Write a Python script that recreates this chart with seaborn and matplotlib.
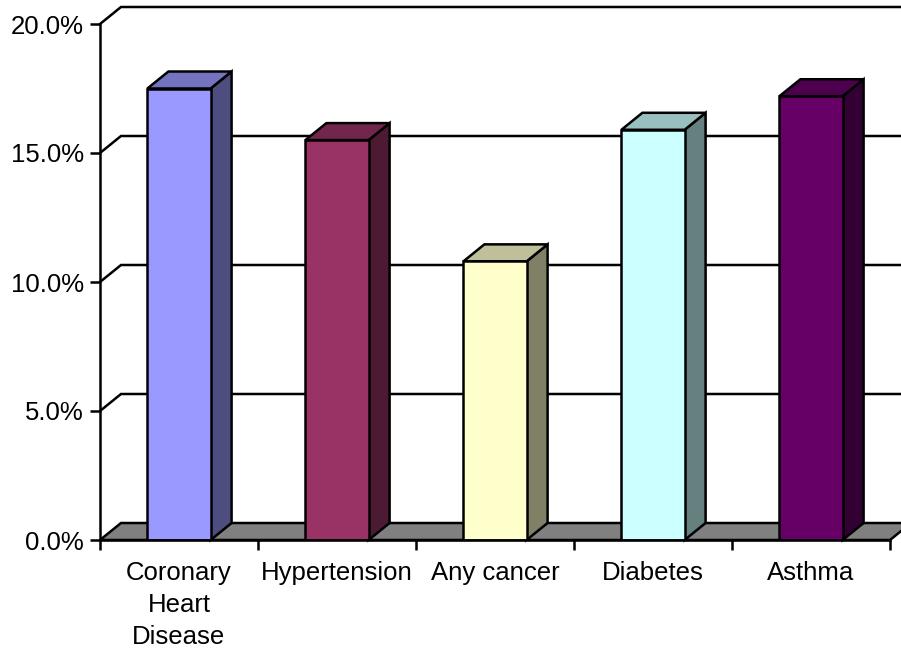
import matplotlib
matplotlib.use("Agg")
import matplotlib.pyplot as plt
import matplotlib.colors as mcolors
from matplotlib.patches import Polygon
import seaborn as sns
import pandas as pd

# Share of people reporting each condition (percent)
conditions = ["Coronary\nHeart\nDisease", "Hypertension", "Any cancer", "Diabetes", "Asthma"]
shares = [17.5, 15.5, 10.8, 15.9, 17.2]
face_colors = ["#9999FF", "#993366", "#FFFFCC", "#CCFFFF", "#660066"]
y_ticks = [0, 5, 10, 15, 20]
y_tick_labels = ["0.0%", "5.0%", "10.0%", "15.0%", "20.0%"]

df = pd.DataFrame({"condition": conditions, "share": shares})

sns.set_theme(style="white")
plt.rcParams["font.family"] = ["Liberation Sans", "DejaVu Sans"]

W, H, DPI = 901, 648, 100
fig = plt.figure(figsize=(W / DPI, H / DPI), dpi=DPI)
left_px, right_px, bottom_px, top_px = 100, 890, 540, 24
ax = fig.add_axes([left_px / W, 1 - bottom_px / H,
                   (right_px - left_px) / W, (bottom_px - top_px) / H])

n = len(conditions)
ax.set_xlim(-0.5, n - 0.5)
ax.set_ylim(0, 20)

# depth of the oblique projection, in pixels, converted to data units
depth_x_px, depth_y_px = 21, 17
DX = depth_x_px * n / (right_px - left_px)
DY = depth_y_px * 20 / (bottom_px - top_px)

LW = 1.8
edge = "black"

# floor
floor = Polygon([(-0.5, 0), (n - 0.5, 0), (n - 0.5 + DX, DY), (-0.5 + DX, DY)],
                closed=True, facecolor="#808080", edgecolor=edge, lw=LW,
                clip_on=False, zorder=1, joinstyle="miter")
ax.add_patch(floor)

# wall gridlines with the slanted side-wall segment
for yv in y_ticks[1:]:
    ax.plot([-0.5, -0.5 + DX, n - 0.5 + DX + 1], [yv, yv + DY, yv + DY],
            color=edge, lw=LW, clip_on=False, zorder=1.5,
            solid_joinstyle="miter")

# front faces
sns.barplot(data=df, x="condition", y="share", hue="condition",
            palette=face_colors, width=0.4, edgecolor=edge, linewidth=LW,
            legend=False, ax=ax, zorder=3, saturation=1)

# side and top faces, built from each bar's front face
bars = [p for p in ax.patches if p is not floor]
for patch, col in zip(bars, face_colors):
    x0 = patch.get_x()
    w = patch.get_width()
    h = patch.get_height()
    x1 = x0 + w
    rgb = mcolors.to_rgb(col)
    side_col = tuple(c * 0.5 for c in rgb)
    top_col = tuple(c * 0.75 for c in rgb)
    side = Polygon([(x1, 0), (x1 + DX, DY), (x1 + DX, h + DY), (x1, h)],
                   closed=True, facecolor=side_col, edgecolor=edge, lw=LW,
                   clip_on=False, zorder=2.9, joinstyle="miter")
    top = Polygon([(x0, h), (x0 + DX, h + DY), (x1 + DX, h + DY), (x1, h)],
                  closed=True, facecolor=top_col, edgecolor=edge, lw=LW,
                  clip_on=False, zorder=2.9, joinstyle="miter")
    ax.add_patch(side)
    ax.add_patch(top)

# axes styling
for s in ["top", "right"]:
    ax.spines[s].set_visible(False)
for s in ["left", "bottom"]:
    ax.spines[s].set_color(edge)
    ax.spines[s].set_linewidth(LW)
    ax.spines[s].set_zorder(4)
ax.grid(False)
ax.set_facecolor("none")
ax.set_xlabel("")
ax.set_ylabel("")

FS = 18.5
ax.set_yticks(y_ticks)
ax.set_yticklabels(y_tick_labels)
ax.set_xticks(range(n))
ax.set_xticklabels(conditions, linespacing=1.42)
ax.set_xticks([i - 0.5 for i in range(n + 1)], minor=True)
ax.tick_params(axis="x", which="major", length=0, pad=15, labelsize=FS,
               colors="black")
ax.tick_params(axis="x", which="minor", length=7.5, width=LW, color=edge,
               direction="out", bottom=True)
ax.tick_params(axis="y", length=7.5, width=LW, color=edge, pad=4,
               labelsize=FS, direction="out", left=True, labelcolor="black")

fig.savefig("out.png", dpi=DPI, facecolor="white")
